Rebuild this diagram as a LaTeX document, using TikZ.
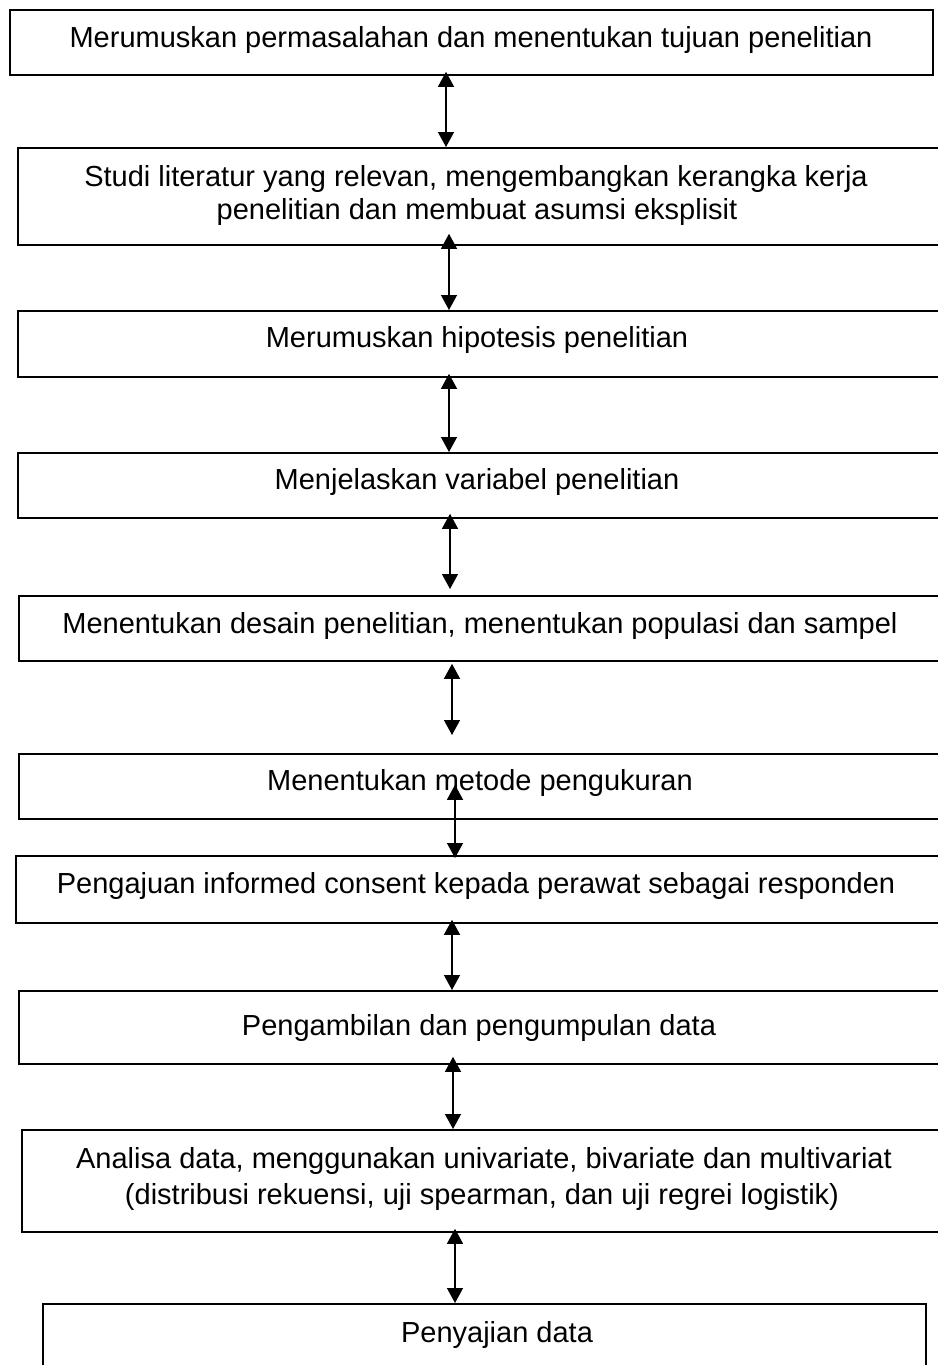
\documentclass[tikz,border=0pt]{standalone}
\usepackage{fontspec}
\setmainfont{Liberation Sans}
\usetikzlibrary{arrows.meta}
\begin{document}
\begin{tikzpicture}[x=1pt,y=-1pt,
  box/.style={draw,line width=1.8pt,inner sep=0pt,anchor=north west},
  lbl/.style={anchor=base,inner sep=0pt,font=\fontsize{29}{33}\selectfont},
  link/.style={line width=1.3pt,{Triangle[length=15pt,width=16pt]}-{Triangle[length=15pt,width=16pt]}}]
\useasboundingbox (0,0) rectangle (937,1365);
% boxes
\node[box,minimum width=923pt,minimum height=65pt] (b1) at (9,9) {};
\node[box,minimum width=940pt,minimum height=97pt] (b2) at (17,147) {};
\node[box,minimum width=940pt,minimum height=66pt] (b3) at (17,310) {};
\node[box,minimum width=940pt,minimum height=65pt] (b4) at (17,452) {};
\node[box,minimum width=940pt,minimum height=65pt] (b5) at (18,595) {};
\node[box,minimum width=940pt,minimum height=65pt] (b6) at (18,753) {};
\node[box,minimum width=940pt,minimum height=67pt] (b7) at (15,855) {};
\node[box,minimum width=940pt,minimum height=73pt] (b8) at (18,990) {};
\node[box,minimum width=940pt,minimum height=102pt] (b9) at (21,1129) {};
\node[box,minimum width=883pt,minimum height=90pt] (b10) at (42,1303) {};
% texts
\node[lbl] (t1) at (471,47) {Merumuskan permasalahan dan menentukan tujuan penelitian};
\node[lbl] (t2a) at (476,186) {Studi literatur yang relevan, mengembangkan kerangka kerja};
\node[lbl] (t2b) at (477,219) {penelitian dan membuat asumsi eksplisit};
\node[lbl] (t3) at (477,347) {Merumuskan hipotesis penelitian};
\node[lbl] (t4) at (477,489) {Menjelaskan variabel penelitian};
\node[lbl] (t5) at (480,633) {Menentukan desain penelitian, menentukan populasi dan sampel};
\node[lbl] (t6) at (480,790) {Menentukan metode pengukuran};
\node[lbl] (t7) at (476,893) {Pengajuan informed consent kepada perawat sebagai responden};
\node[lbl] (t8) at (479,1035) {Pengambilan dan pengumpulan data};
\node[lbl] (t9a) at (484,1168) {Analisa data, menggunakan univariate, bivariate dan multivariat};
\node[lbl] (t9b) at (482,1204) {(distribusi rekuensi, uji spearman, dan uji regrei logistik)};
\node[lbl] (t10) at (497,1342) {Penyajian data};
% arrow columns
\coordinate (x1) at (446,0);
\coordinate (x2) at (449,0);
\coordinate (x3) at (449,0);
\coordinate (x4) at (450,0);
\coordinate (x5) at (452,0);
\coordinate (x6) at (455,0);
\coordinate (x7) at (452,0);
\coordinate (x8) at (453,0);
\coordinate (x9) at (455,0);
% connectors
\draw[link,shorten <=-4pt] (b1.south -| x1) -- (b2.north -| x1);
\draw[link,shorten <=-12pt] (b2.south -| x2) -- (b3.north -| x2);
\draw[link,shorten <=-4pt] (b3.south -| x3) -- (b4.north -| x3);
\draw[link,shorten <=-5pt,shorten >=6pt] (b4.south -| x4) -- (b5.north -| x4);
\draw[link,shorten <=2pt,shorten >=18pt] (b5.south -| x5) -- (b6.north -| x5);
\draw[link,shorten <=-35pt,shorten >=-3pt] (b6.south -| x6) -- (b7.north -| x6);
\draw[link,shorten <=-4pt] (b7.south -| x7) -- (b8.north -| x7);
\draw[link,shorten <=-8pt] (b8.south -| x8) -- (b9.north -| x8);
\draw[link,shorten <=-4pt] (b9.south -| x9) -- (b10.north -| x9);
\end{tikzpicture}
\end{document}
